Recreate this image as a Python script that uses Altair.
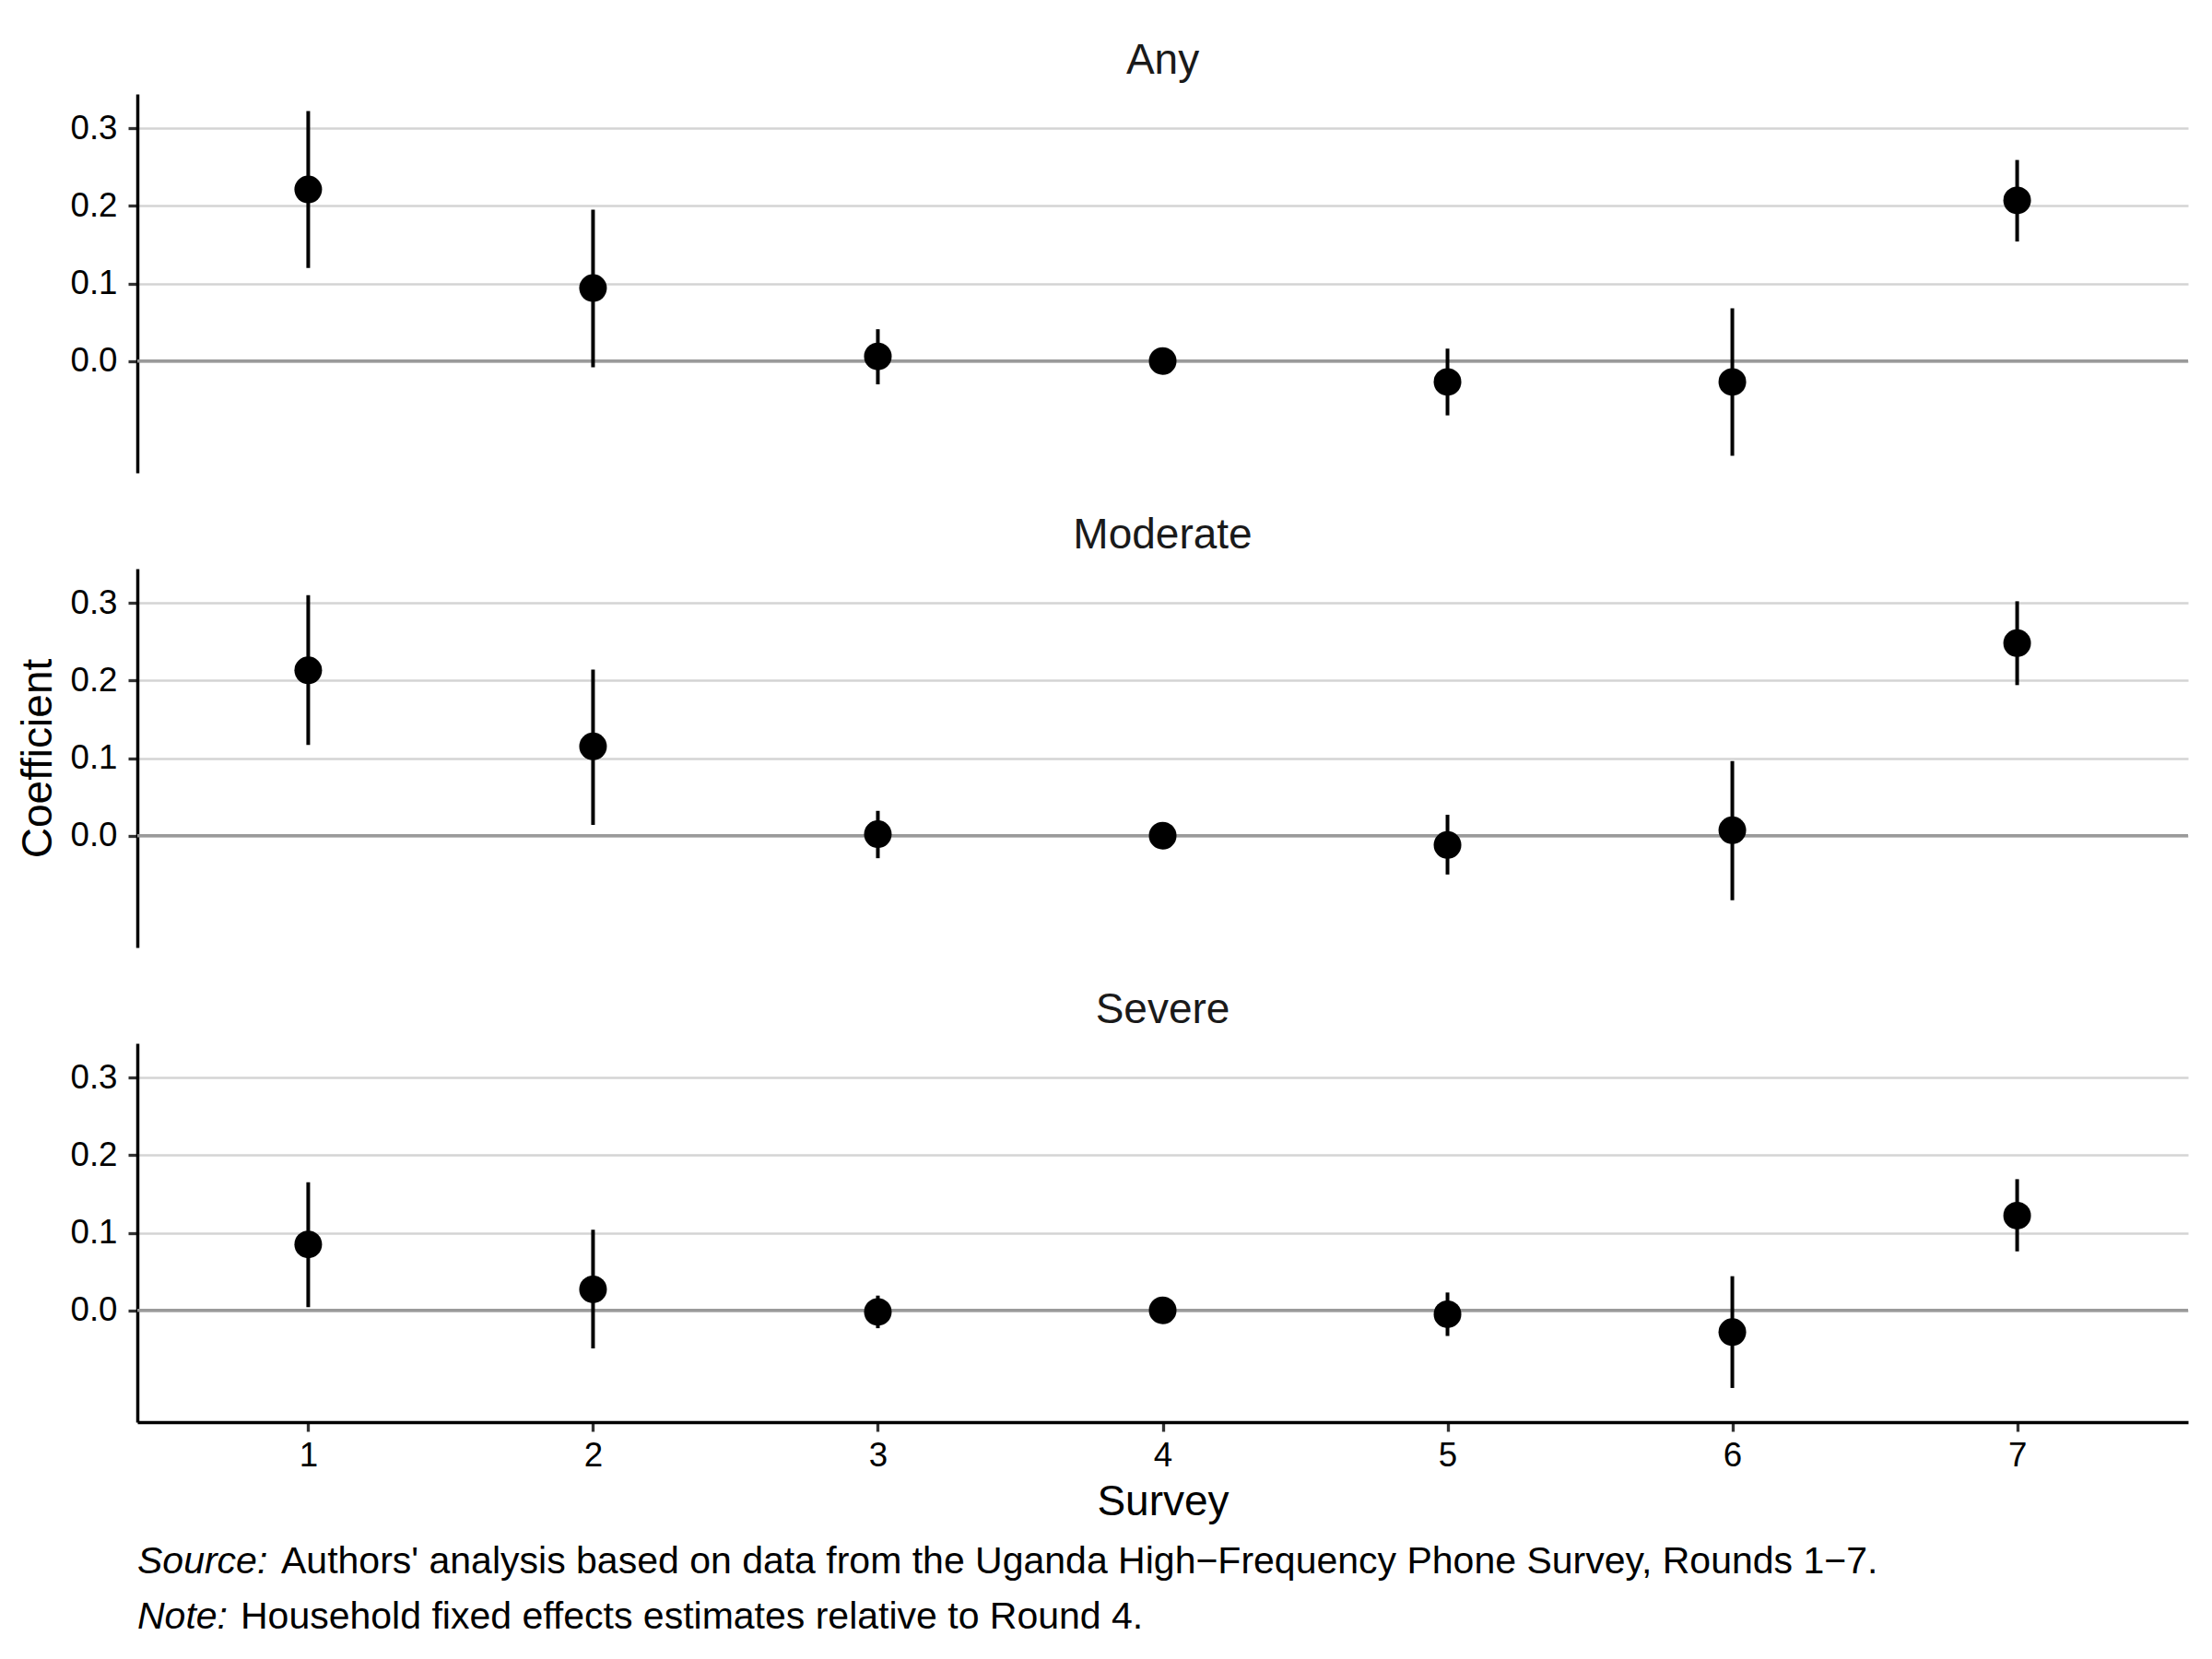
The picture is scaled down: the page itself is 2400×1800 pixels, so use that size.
import altair as alt
import pandas as pd

# ---- data ----
surveys = [1, 2, 3, 4, 5, 6, 7]
panel_names = ["Any", "Moderate", "Severe"]

any_est = [0.221, 0.094, 0.006, 0.0, -0.027, -0.027, 0.207]
any_lo = [0.120, -0.008, -0.030, 0.0, -0.070, -0.122, 0.154]
any_hi = [0.322, 0.195, 0.041, 0.0, 0.016, 0.068, 0.259]

mod_est = [0.213, 0.115, 0.002, 0.0, -0.012, 0.007, 0.248]
mod_lo = [0.117, 0.014, -0.029, 0.0, -0.050, -0.083, 0.194]
mod_hi = [0.310, 0.214, 0.032, 0.0, 0.027, 0.096, 0.302]

sev_est = [0.085, 0.027, -0.002, 0.0, -0.005, -0.028, 0.122]
sev_lo = [0.004, -0.049, -0.023, 0.0, -0.033, -0.100, 0.076]
sev_hi = [0.165, 0.104, 0.019, 0.0, 0.023, 0.044, 0.169]

y_ticks = [0.0, 0.1, 0.2, 0.3]
caption1 = ("Source:", "Authors' analysis based on data from the Uganda High\u2212Frequency Phone Survey, Rounds 1\u22127.")
caption2 = ("Note:", "Household fixed effects estimates relative to Round 4.")

FONT = "Liberation Sans"
W = 2225
H = 411
CAP = 41

xscale = alt.Scale(domain=[0.4, 7.6], nice=False, zero=False)
yscale = alt.Scale(domain=[-0.144, 0.344], nice=False, zero=False)


def make_panel(name, est, lo, hi, bottom, show_ytitle):
    df = pd.DataFrame({"survey": surveys, "est": est, "lo": lo, "hi": hi})
    yaxis = alt.Axis(values=y_ticks, format=".1f", title="Coefficient",
                     titleOpacity=1 if show_ytitle else 0, grid=True,
                     labelPadding=12)
    if bottom:
        xaxis = alt.Axis(values=surveys, format="d", title="Survey", grid=False,
                         labelPadding=8)
    else:
        xaxis = None

    zero = alt.Chart(pd.DataFrame({"z": [0.0]})).mark_rule(
        color="#9A9A9A", strokeWidth=3.6
    ).encode(y=alt.Y("z:Q", scale=yscale, axis=yaxis))

    bars = alt.Chart(df).mark_rule(color="black", strokeWidth=4).encode(
        x=alt.X("survey:Q", scale=xscale, axis=xaxis),
        y=alt.Y("lo:Q", scale=yscale, axis=yaxis),
        y2="hi:Q",
    )
    pts = alt.Chart(df).mark_point(
        filled=True, shape="circle", size=900, color="black", opacity=1
    ).encode(
        x=alt.X("survey:Q", scale=xscale, axis=xaxis),
        y=alt.Y("est:Q", scale=yscale, axis=yaxis),
    )
    layers = [zero, bars, pts]

    if bottom:
        one = pd.DataFrame({"a": [0]})
        cap_y1 = H + 164
        cap_y2 = H + 224
        for (lab, rest), yy, off in [(caption1, cap_y1, 156), (caption2, cap_y2, 112)]:
            layers.append(
                alt.Chart(one).mark_text(
                    align="left", baseline="alphabetic", font=FONT, fontSize=CAP,
                    fontStyle="italic", color="black"
                ).encode(x=alt.value(0), y=alt.value(yy), text=alt.value(lab))
            )
            layers.append(
                alt.Chart(one).mark_text(
                    align="left", baseline="alphabetic", font=FONT, fontSize=CAP,
                    color="black"
                ).encode(x=alt.value(off), y=alt.value(yy), text=alt.value(rest))
            )

    return alt.layer(*layers).properties(
        width=W, height=H,
        title=alt.TitleParams(
            name, fontSize=46, font=FONT, fontWeight="normal", anchor="middle",
            frame="group", offset=12, color="#1a1a1a"
        ),
    )


p1 = make_panel(panel_names[0], any_est, any_lo, any_hi, False, False)
p2 = make_panel(panel_names[1], mod_est, mod_lo, mod_hi, False, True)
p3 = make_panel(panel_names[2], sev_est, sev_lo, sev_hi, True, False)

chart = alt.vconcat(p1, p2, p3, spacing=45).properties(
    padding={"top": 35, "left": 10, "right": 10, "bottom": 10}
).configure_view(
    stroke=None
).configure_axis(
    domainColor="black", domainWidth=3.5,
    tickColor="#333333", tickWidth=3.3, tickSize=10,
    labelFont=FONT, labelFontSize=36.7, labelColor="black",
    titleFont=FONT, titleFontSize=46, titleFontWeight="normal", titleColor="black",
    titlePadding=10,
    gridColor="#D4D4D4", gridWidth=2.7,
)

chart.save("out.html", embed_options={"renderer": "svg", "actions": False})
